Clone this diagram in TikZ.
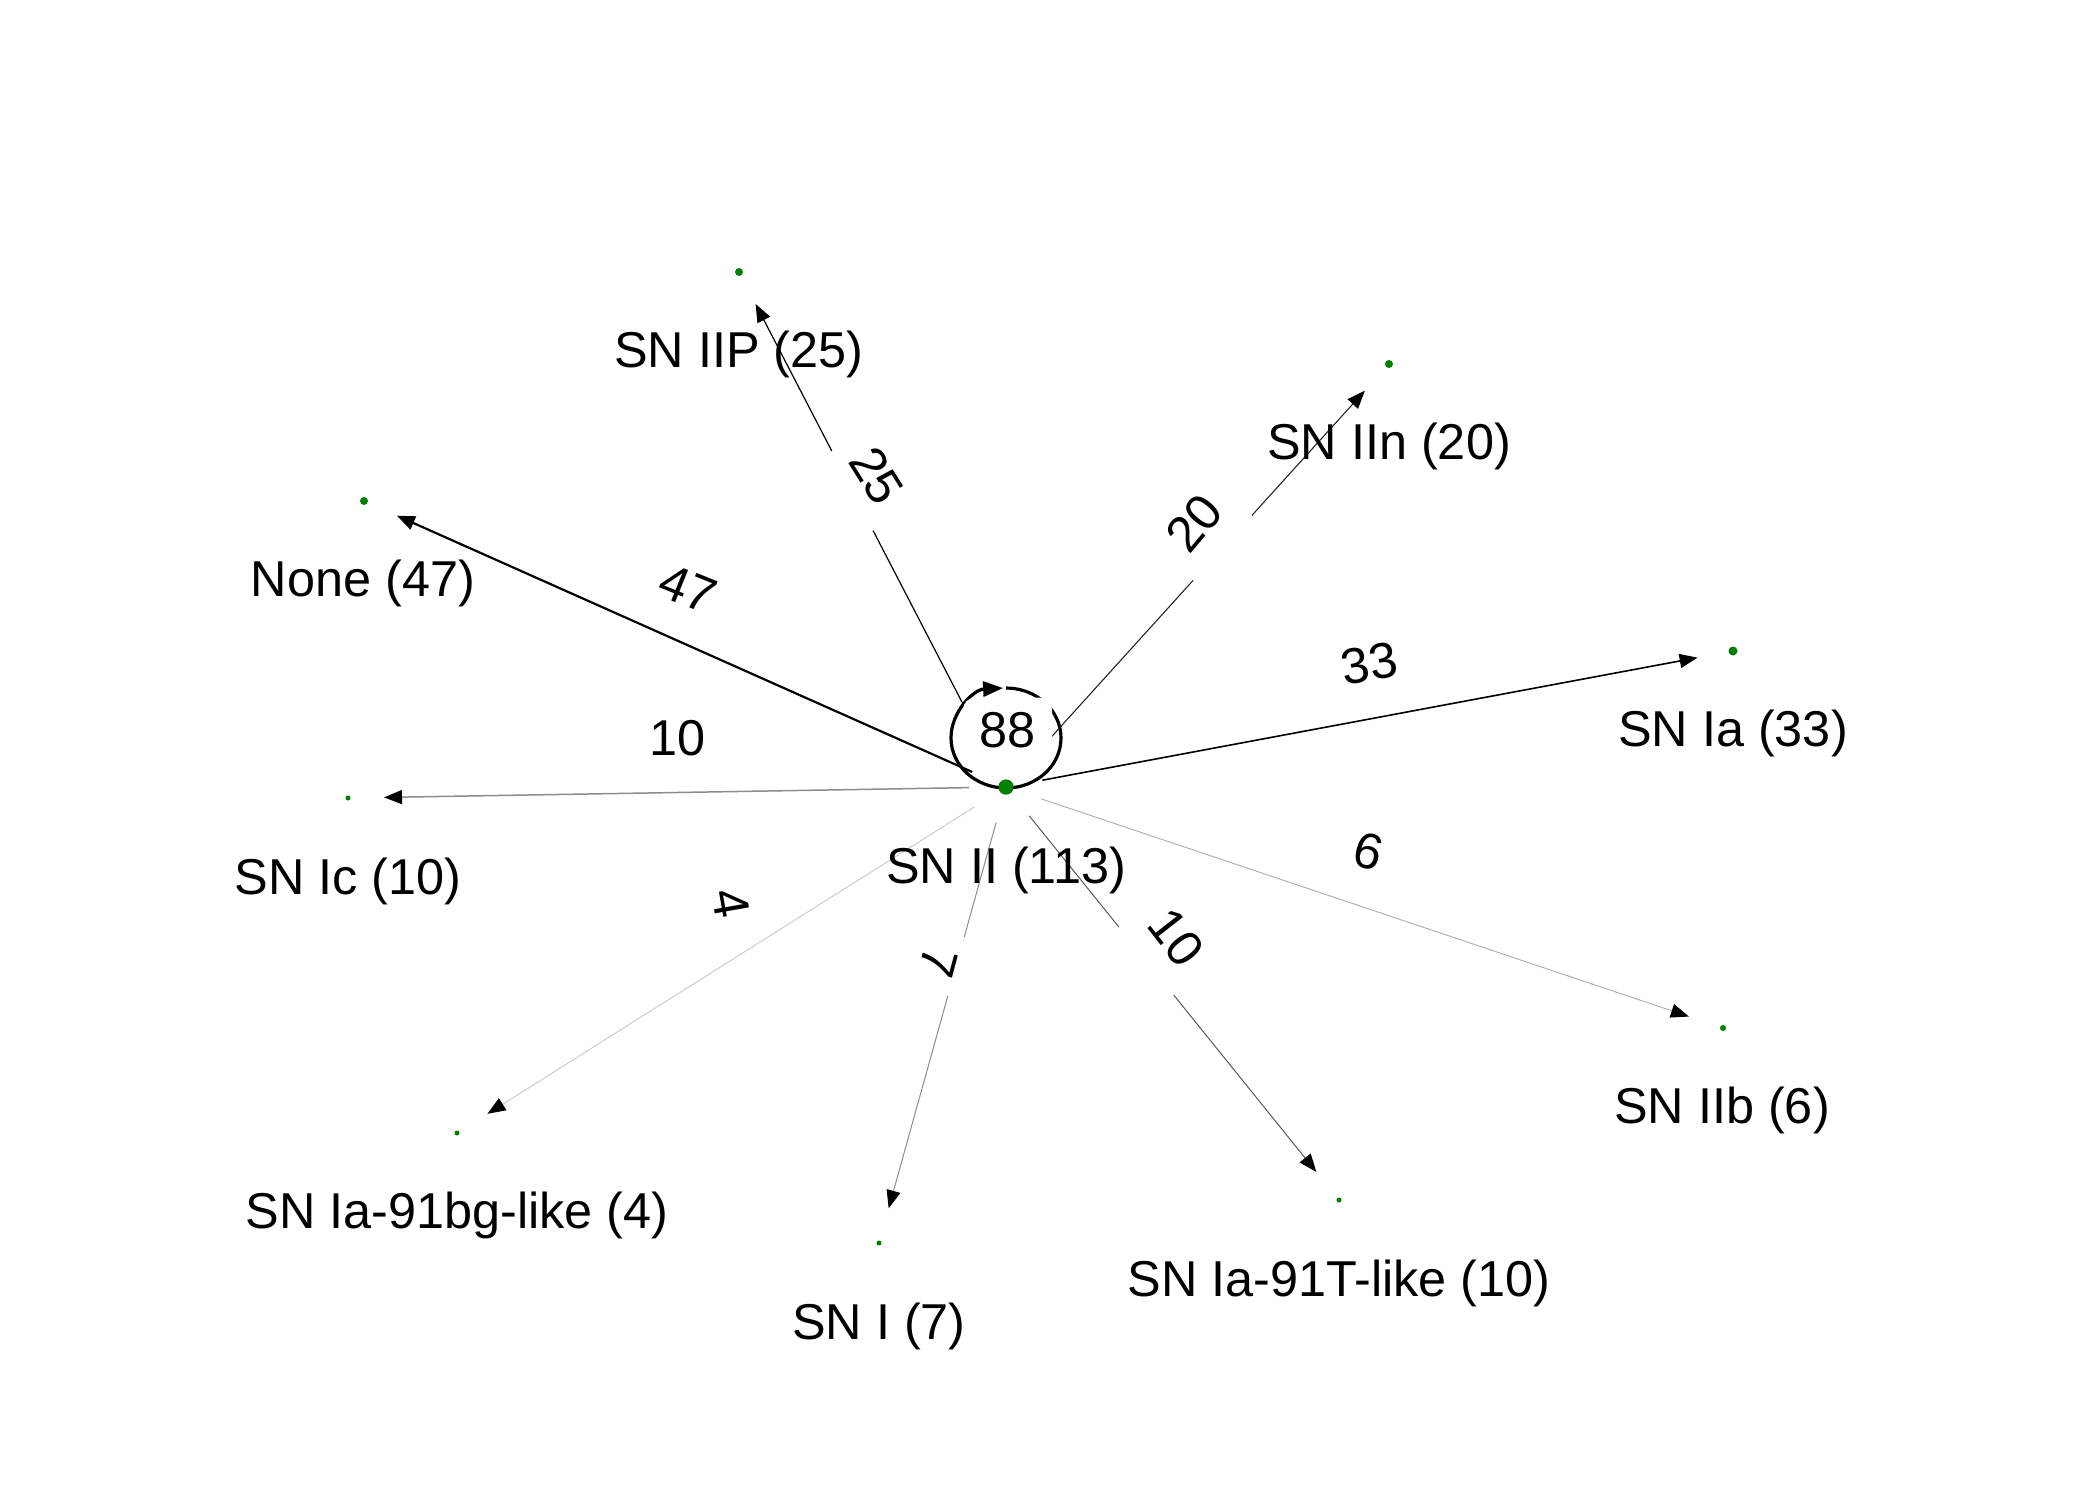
\documentclass[tikz,border=0pt]{standalone}
\usepackage{fontspec}
\setmainfont{Liberation Sans}
\usetikzlibrary{arrows.meta}
\definecolor{vgreen}{RGB}{0,128,0}
\begin{document}
\begin{tikzpicture}[x=0.5pt,y=-0.5pt,
  txt/.style={font=\fontsize{25.2}{30}\selectfont, inner sep=0pt},
  wlabel/.style={txt, fill=white, rounded corners=6pt, inner xsep=8.25pt, inner ysep=9.2pt,
                 text height=18.4pt, text depth=5.3pt},
  vtx/.style={circle, fill=vgreen, draw=none, inner sep=0pt, minimum size=#1},
  flow/.style={-{Triangle[length=9pt,width=7pt,color=black]}, shorten <=18.5pt, shorten >=18pt},
  loopline/.style={line width=1.6pt, black}
]
\useasboundingbox (0,0) rectangle (2100,1500);

% vertex positions
\node[vtx=7.5pt] (snii)  at (1006,787)  {};
\node[vtx=4pt]   (sniip) at (739,272)   {};
\node[vtx=4pt]   (sniin) at (1389,364)  {};
\node[vtx=4pt]   (none)  at (364,501)   {};
\node[vtx=4.5pt] (snia)  at (1733,651)  {};
\node[vtx=3pt]   (sniib) at (1723,1028) {};
\node[vtx=2.5pt] (snic)  at (348,798)   {};
\node[vtx=2.5pt] (bg)    at (457,1133)  {};
\node[vtx=2.5pt] (sni)   at (879,1243)  {};
\node[vtx=2.5pt] (tl)    at (1339,1200) {};

% self loop on SN II
\coordinate (lc) at (1006,738);
\draw[loopline, -{Triangle[length=10pt,width=7.5pt]}] ([shift={(90:55 and 50)}]lc) arc[start angle=90, end angle=267, x radius=55, y radius=50];
\draw[loopline] ([shift={(270:55 and 50)}]lc) arc[start angle=270, end angle=450, x radius=55, y radius=50];

% edges
\draw[flow, line width=1.1pt, black]     (snii.center) -- (none.center);
\draw[flow, line width=0.8pt, black]     (snii.center) -- (snia.center);
\draw[flow, line width=0.6pt, black]     (snii.center) -- (sniip.center);
\draw[flow, line width=0.55pt, black!85] (snii.center) -- (sniin.center);
\draw[flow, line width=0.75pt, black!45] (snii.center) -- (snic.center);
\draw[flow, line width=0.5pt, black!65]  (snii.center) -- (tl.center);
\draw[flow, line width=0.5pt, black!45]  (snii.center) -- (sni.center);
\draw[flow, line width=0.5pt, black!30]  (snii.center) -- (sniib.center);
\draw[flow, line width=0.5pt, black!20]  (snii.center) -- (bg.center);

% vertex dot on top of the loop
\node[vtx=7.5pt] at (snii) {};

% edge weights
\node[wlabel, inner ysep=6.3pt] (w88) at (1007.5,734) {88};
\node[wlabel, rotate=-22] (w47) at (686,592.5) {47};
\node[wlabel, rotate=10]  (w33) at (1370,668) {33};
\node[wlabel, rotate=-58] (w25) at (873,478) {25};
\node[wlabel, rotate=50]  (w20) at (1197,526) {20};
\node[wlabel] (w10a) at (678,742) {10};
\node[wlabel, rotate=-52] (w10b) at (1173,940) {10};
\node[wlabel, rotate=-105] (w7) at (935,961) {7};
\node[wlabel, rotate=-15] (w6) at (1367,855) {6};
\node[wlabel, rotate=-80] (w4) at (727,904) {4};

% vertex names
\node[txt] (lsnii)  at (1006,870)  {SN II (113)};
\node[txt] (lsniip) at (739,354)   {SN IIP (25)};
\node[txt] (lsniin) at (1389,446)  {SN IIn (20)};
\node[txt] (lnone)  at (363,583)   {None (47)};
\node[txt] (lsnia)  at (1733,733)  {SN Ia (33)};
\node[txt] (lsniib) at (1722,1110) {SN IIb (6)};
\node[txt] (lsnic)  at (348,881)   {SN Ic (10)};
\node[txt] (lbg)    at (457,1215)  {SN Ia-91bg-like (4)};
\node[txt] (lsni)   at (879,1326)  {SN I (7)};
\node[txt] (ltl)    at (1339,1283) {SN Ia-91T-like (10)};
\end{tikzpicture}
\end{document}
